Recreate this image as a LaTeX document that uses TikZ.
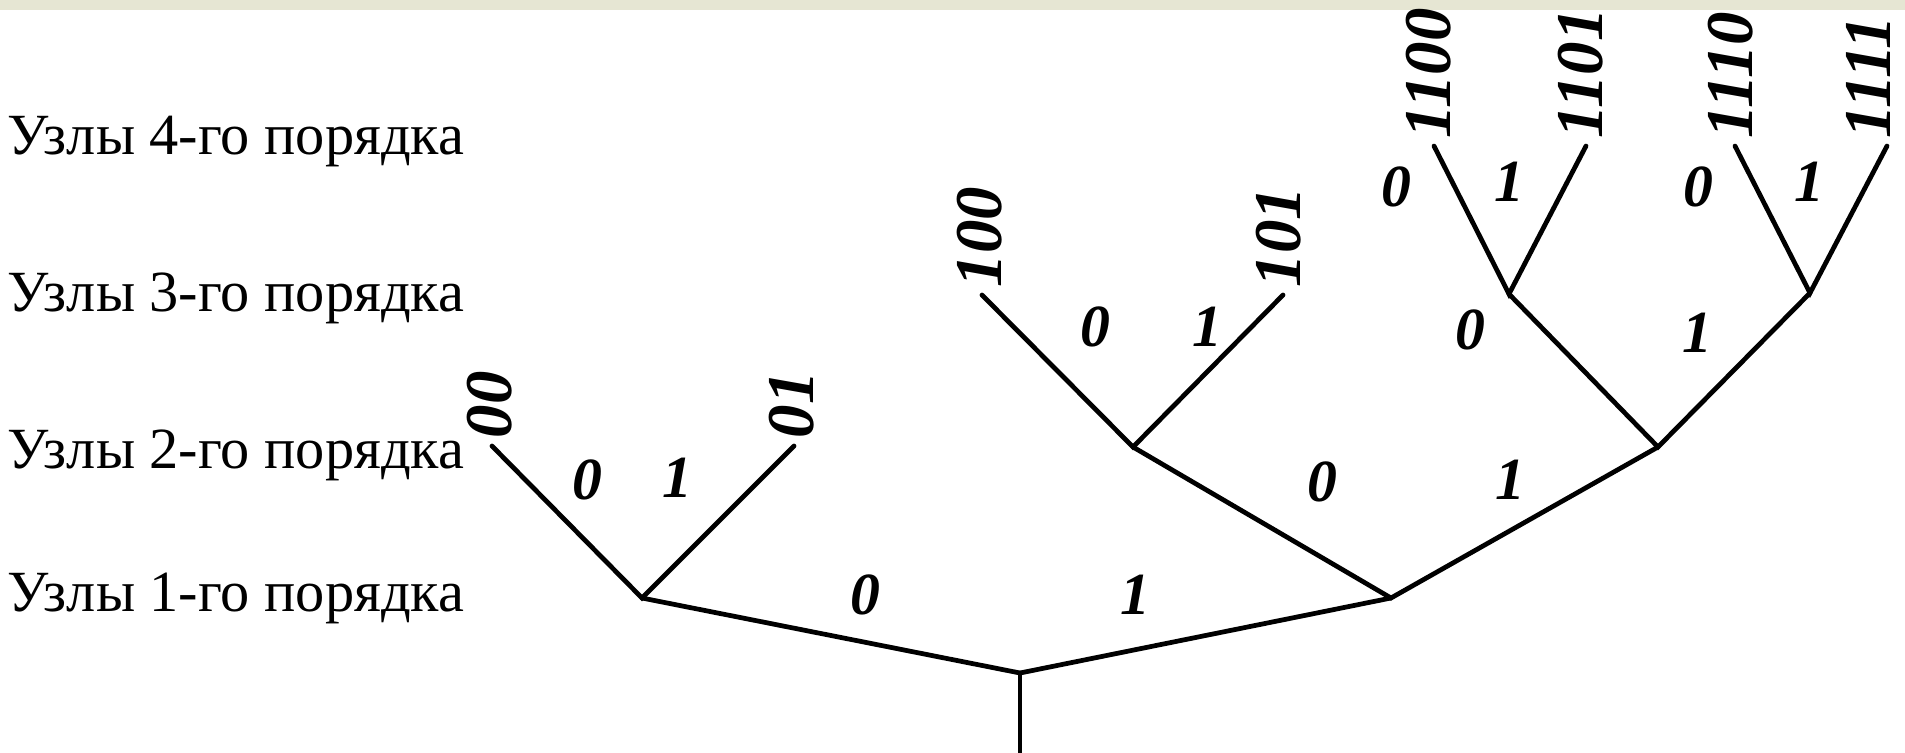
\documentclass[tikz,border=0pt]{standalone}
\usepackage{fontspec}
\setmainfont{Liberation Serif}
\usetikzlibrary{positioning}
\definecolor{bandbeige}{HTML}{E6E6D3}

\begin{document}
\begin{tikzpicture}[x=0.1mm, y=-0.1mm,
  level/.style={anchor=west, inner sep=0pt, font=\fontsize{16.6}{20}\selectfont},
  bit/.style={inner sep=0pt, font=\fontsize{17}{20}\selectfont\bfseries\itshape},
  code/.style={inner sep=0pt, font=\fontsize{19}{22}\selectfont\bfseries\itshape,
    rotate=90, anchor=west},
  branch/.style={line width=1.35pt, line cap=round},
]
  \useasboundingbox (0,0) rectangle (1905,752);
  \fill[bandbeige] (0,0) rectangle (1905,10);

  % Level captions
  \node[level] (cap4) at (7,142) {Узлы 4-го порядка};
  \node[level] (cap3) at (7,298) {Узлы 3-го порядка};
  \node[level] (cap2) at (7,455) {Узлы 2-го порядка};
  \node[level] (cap1) at (7,598) {Узлы 1-го порядка};

  % Tree points
  \coordinate (base) at (1020,752);
  \coordinate (root) at (1020,673);
  \coordinate (n0) at (642,598);
  \coordinate (n1) at (1391,598);
  \coordinate (n00) at (492,446);
  \coordinate (n01) at (794,446);
  \coordinate (n10) at (1133,447);
  \coordinate (n11) at (1658,447);
  \coordinate (n100) at (982,295);
  \coordinate (n101) at (1283,295);
  \coordinate (n110) at (1509,294);
  \coordinate (n111) at (1810,293);
  \coordinate (n1100) at (1434,146);
  \coordinate (n1101) at (1586,146);
  \coordinate (n1110) at (1735,146);
  \coordinate (n1111) at (1887,146);

  % Branches
  \draw[branch] (base) -- (root);
  \draw[branch] (n0) -- (root) -- (n1);
  \draw[branch] (n00) -- (n0) -- (n01);
  \draw[branch] (n10) -- (n1) -- (n11);
  \draw[branch] (n100) -- (n10) -- (n101);
  \draw[branch] (n110) -- (n11) -- (n111);
  \draw[branch] (n1100) -- (n110) -- (n1101);
  \draw[branch] (n1110) -- (n111) -- (n1111);

  % Branch bits
  \node[bit] (b0) at (865,595) {0};
  \node[bit] (b1) at (1135,595) {1};
  \node[bit] (b00) at (587,480) {0};
  \node[bit] (b01) at (677,478) {1};
  \node[bit] (b10) at (1322,482) {0};
  \node[bit] (b11) at (1510,480) {1};
  \node[bit] (b100) at (1095,327) {0};
  \node[bit] (b101) at (1207,327) {1};
  \node[bit] (b110) at (1470,330) {0};
  \node[bit] (b111) at (1697,333) {1};
  \node[bit] (b1100) at (1396,187) {0};
  \node[bit] (b1101) at (1509,182) {1};
  \node[bit] (b1110) at (1698,187) {0};
  \node[bit] (b1111) at (1809,182) {1};

  % Leaf codes
  \node[code] (c00) at ([shift={(-0.2mm,0.7mm)}]n00) {00};
  \node[code] (c01) at ([shift={(-0.2mm,0.7mm)}]n01) {01};
  \node[code] (c100) at ([shift={(-0.2mm,0.7mm)}]n100) {100};
  \node[code] (c101) at ([shift={(-0.4mm,0.7mm)}]n101) {101};
  \node[code] (c1100) at ([shift={(-0.5mm,0.7mm)}]n1100) {1100};
  \node[code] (c1101) at ([shift={(-0.5mm,0.7mm)}]n1101) {1101};
  \node[code] (c1110) at ([shift={(-0.4mm,0.7mm)}]n1110) {1110};
  \node[code] (c1111) at ([shift={(-1.9mm,0.7mm)}]n1111) {1111};
\end{tikzpicture}
\end{document}
